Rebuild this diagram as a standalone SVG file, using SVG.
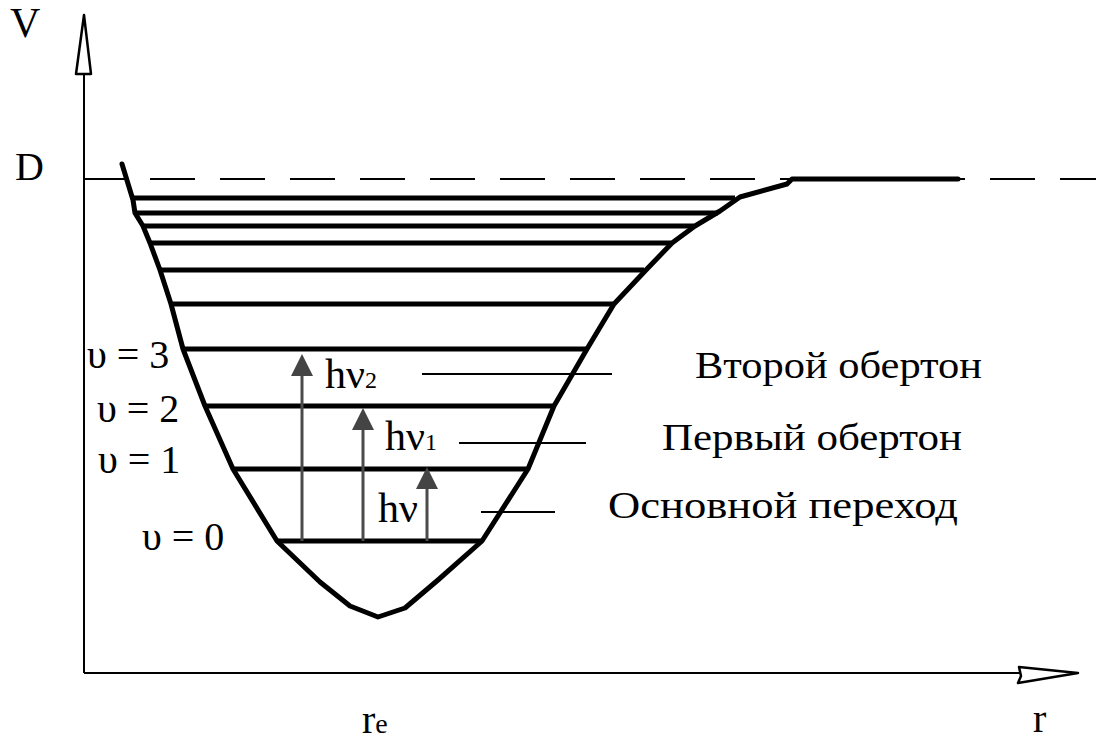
<svg xmlns="http://www.w3.org/2000/svg" width="1096" height="743" viewBox="0 0 1096 743">
<defs>
<style>
.t{font-family:"Liberation Serif","Times New Roman",serif;fill:#000}
.lvl{stroke:#000;stroke-width:5;fill:none}
.thin{stroke:#000;stroke-width:2;fill:none}
.arr{stroke:#4a4a4a;stroke-width:3;fill:none}
.head{fill:#444;stroke:none}
</style>
</defs>
<rect width="1096" height="743" fill="#fff"/>
<g id="axes">
<line x1="84" y1="70" x2="84" y2="673" stroke="#000" stroke-width="2"/>
<polygon points="84,15 91,74 76,74" fill="#fff" stroke="#000" stroke-width="2.5" stroke-linejoin="round"/>
<line x1="84" y1="673" x2="1020" y2="673" stroke="#000" stroke-width="2"/>
<polygon points="1078,673 1019,667 1021,676 1018,683" fill="#fff" stroke="#000" stroke-width="2.5" stroke-linejoin="round"/>
<line x1="84" y1="179" x2="1096" y2="179" stroke="#000" stroke-width="2" stroke-dasharray="45 25" stroke-dashoffset="4"/>
</g>
<g id="curve">
<polyline points="122,164 133,200 135,213 143,226 150,243 160,270 171,304 183,349 205,406 233,469 277,541 320,582 350,606 378,617 405,608 438,580 482,541 528,469 554,406 587,349 614,304 646,270 672,243 695,226 720,211 740,197 787,184 792,179 958,179" fill="none" stroke="#000" stroke-width="5" stroke-linejoin="round" stroke-linecap="round"/>
</g>
<g id="levels">
<line class="lvl" x1="133" y1="198" x2="735" y2="198"/>
<line class="lvl" x1="135" y1="213" x2="718" y2="213"/>
<line class="lvl" x1="143" y1="226" x2="694" y2="226"/>
<line class="lvl" x1="150" y1="243" x2="671" y2="243"/>
<line class="lvl" x1="160" y1="270" x2="644" y2="270"/>
<line class="lvl" x1="171" y1="304" x2="613" y2="304"/>
<line class="lvl" x1="183" y1="349" x2="586" y2="349"/>
<line class="lvl" x1="205" y1="406" x2="553" y2="406"/>
<line class="lvl" x1="233" y1="469" x2="527" y2="469"/>
<line class="lvl" x1="277" y1="541" x2="481" y2="541"/>
</g>
<g id="connectors">
<line class="arr" x1="302" y1="541" x2="302" y2="372"/>
<polygon class="head" points="302,354 313,376 291,376"/>
<line class="arr" x1="363" y1="541" x2="363" y2="426"/>
<polygon class="head" points="363,408 374,430 352,430"/>
<line class="arr" x1="427" y1="541" x2="427" y2="485"/>
<polygon class="head" points="427,467 438,489 416,489"/>
<line class="thin" x1="422" y1="374" x2="612" y2="374"/>
<line class="thin" x1="459" y1="443" x2="586" y2="443"/>
<line class="thin" x1="481" y1="512" x2="555" y2="512"/>
</g>
<g id="labels">
<text class="t" x="10" y="37" font-size="42">V</text>
<text class="t" x="15" y="180" font-size="40">D</text>
<text class="t" x="87" y="368" font-size="40">υ = 3</text>
<text class="t" x="97" y="422" font-size="40">υ = 2</text>
<text class="t" x="98" y="473" font-size="40">υ = 1</text>
<text class="t" x="142" y="550" font-size="40">υ = 0</text>
<text class="t" x="325" y="388" font-size="42">hν<tspan font-size="24">2</tspan></text>
<text class="t" x="385" y="450" font-size="42">hν<tspan font-size="24">1</tspan></text>
<text class="t" x="378" y="522" font-size="42">hν</text>
<text class="t" x="695" y="378" font-size="37" textLength="287" lengthAdjust="spacingAndGlyphs">Второй обертон</text>
<text class="t" x="662" y="450" font-size="37" textLength="300" lengthAdjust="spacingAndGlyphs">Первый обертон</text>
<text class="t" x="608" y="518" font-size="37" textLength="350" lengthAdjust="spacingAndGlyphs">Основной переход</text>
<text class="t" x="362" y="733" font-size="40">r<tspan font-size="28">e</tspan></text>
<text class="t" x="1033" y="732" font-size="40">r</text>
</g>
</svg>
